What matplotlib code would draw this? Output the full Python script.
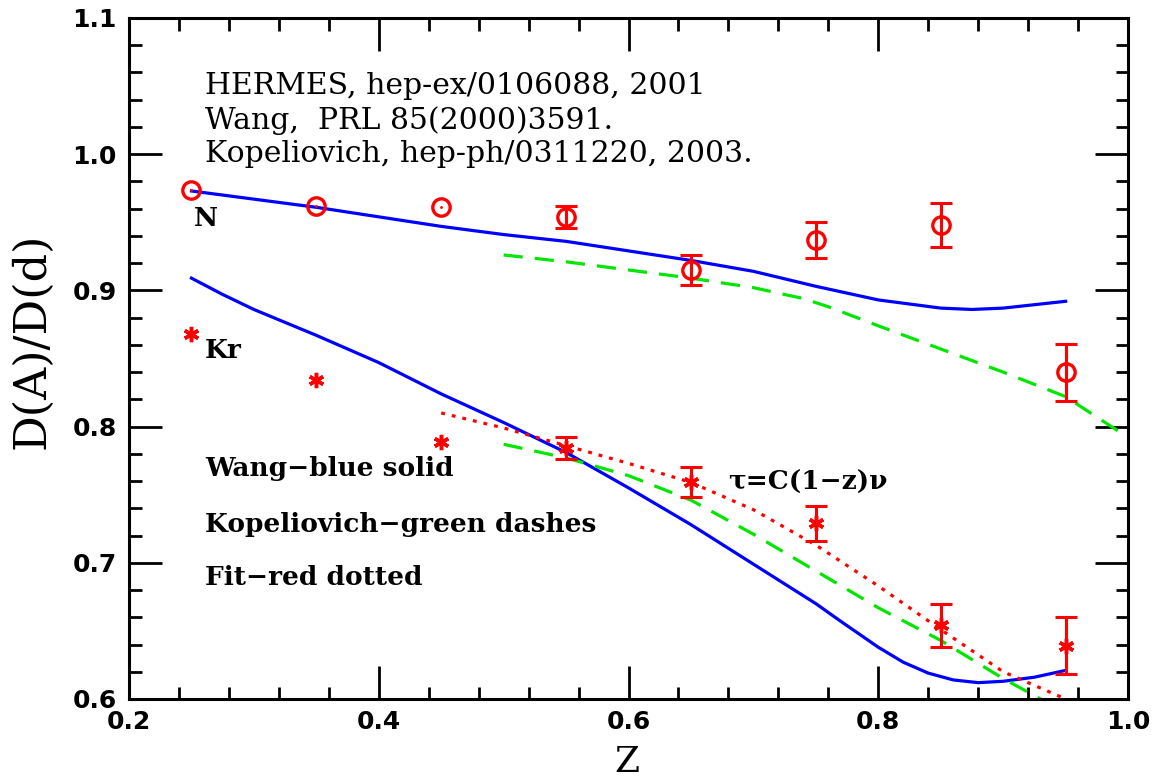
import matplotlib
matplotlib.use('Agg')
import matplotlib.pyplot as plt
import numpy as np
from matplotlib.ticker import MultipleLocator

# HERMES data points
z = [0.25, 0.35, 0.45, 0.55, 0.65, 0.75, 0.85, 0.95]
ratio_N = [0.974, 0.962, 0.961, 0.954, 0.915, 0.937, 0.948, 0.840]
err_N = [0, 0, 0, 0.008, 0.011, 0.013, 0.016, 0.021]
ratio_Kr = [0.868, 0.834, 0.789, 0.784, 0.759, 0.729, 0.654, 0.639]
err_Kr = [0, 0, 0, 0.008, 0.011, 0.013, 0.016, 0.021]

# Wang (blue solid)
wang_z = [0.25, 0.30, 0.35, 0.40, 0.45, 0.50, 0.55, 0.60, 0.65, 0.70, 0.75, 0.80, 0.85, 0.875, 0.90, 0.95]
wang_N = [0.973, 0.967, 0.961, 0.954, 0.947, 0.941, 0.936, 0.929, 0.922, 0.914, 0.903, 0.893, 0.887, 0.886, 0.887, 0.892]
wang_kr_z = [0.25, 0.275, 0.30, 0.35, 0.40, 0.45, 0.50, 0.55, 0.60, 0.65, 0.70, 0.75, 0.77, 0.80, 0.82, 0.84,
             0.86, 0.88, 0.90, 0.925, 0.95]
wang_Kr = [0.909, 0.897, 0.886, 0.867, 0.847, 0.824, 0.803, 0.781, 0.755, 0.728, 0.699, 0.670, 0.657, 0.638,
           0.627, 0.619, 0.614, 0.612, 0.613, 0.616, 0.621]

# Kopeliovich (green dashes)
kop_N_z = [0.50, 0.55, 0.60, 0.65, 0.70, 0.74, 0.76, 0.80, 0.85, 0.90, 0.95, 1.00]
kop_N = [0.926, 0.921, 0.915, 0.909, 0.902, 0.894, 0.888, 0.874, 0.857, 0.840, 0.822, 0.792]
kop_Kr_z = [0.50, 0.55, 0.60, 0.65, 0.70, 0.75, 0.80, 0.85, 0.90, 0.93, 0.96]
kop_Kr = [0.787, 0.777, 0.764, 0.746, 0.721, 0.694, 0.667, 0.643, 0.615, 0.600, 0.582]

# fit (red dotted)
fit_z = [0.45, 0.50, 0.55, 0.60, 0.65, 0.70, 0.75, 0.80, 0.85, 0.90, 0.95]
fit_Kr = [0.810, 0.799, 0.786, 0.773, 0.759, 0.739, 0.713, 0.683, 0.651, 0.620, 0.600]

fig = plt.figure(figsize=(11.57, 7.79), dpi=100)
ax = fig.add_axes([0.1115, 0.1027, 0.8635, 0.8742])

ax.plot(wang_z, wang_N, color='#0000ff', lw=2.3)
ax.plot(wang_kr_z, wang_Kr, color='#0000ff', lw=2.3)
ax.plot(kop_N_z, kop_N, color='#00e600', lw=2.3, dashes=(6, 3.8))
ax.plot(kop_Kr_z, kop_Kr, color='#00e600', lw=2.3, dashes=(6, 3.8))
ax.plot(fit_z, fit_Kr, color='#ff0000', lw=2.3, linestyle=(0, (1.2, 2.2)))

z = np.array(z)
m = np.array(err_N) > 0
ax.plot(z, ratio_N, 'o', mfc='none', mec='#ff0000', mew=2.4, ms=12.5, zorder=5)
ax.plot(z, ratio_N, '.', color='#ff0000', ms=2, zorder=5)
ax.errorbar(z[m], np.array(ratio_N)[m], yerr=np.array(err_N)[m], fmt='none',
            ecolor='#ff0000', elinewidth=2.2, capsize=8, capthick=2.2, zorder=5)
mk = np.array(err_Kr) > 0
ax.plot(z, ratio_Kr, marker=(6, 2, 0), ls='none', color='#ff0000', mew=2.5, ms=11, zorder=5)
ax.errorbar(z[mk], np.array(ratio_Kr)[mk], yerr=np.array(err_Kr)[mk], fmt='none',
            ecolor='#ff0000', elinewidth=2.2, capsize=8, capthick=2.2, zorder=5)

ax.set_xlim(0.2, 1.0)
ax.set_ylim(0.6, 1.1)
ax.xaxis.set_major_locator(MultipleLocator(0.2))
ax.xaxis.set_minor_locator(MultipleLocator(0.04))
ax.yaxis.set_major_locator(MultipleLocator(0.1))
ax.yaxis.set_minor_locator(MultipleLocator(0.02))
ax.tick_params(which='both', direction='in', top=True, right=True, width=2)
ax.tick_params(which='major', length=24)
ax.tick_params(which='minor', length=9)
ax.tick_params(axis='x', pad=8)
ax.tick_params(axis='y', pad=9)
for lab in ax.get_xticklabels() + ax.get_yticklabels():
    lab.set_fontfamily('DejaVu Sans')
    lab.set_fontweight('bold')
    lab.set_fontsize(18)
for s in ax.spines.values():
    s.set_linewidth(2.2)

ax.set_xlabel('Z', fontsize=26, family='DejaVu Serif')
ax.xaxis.set_label_coords(0.498, -0.068)
ax.set_ylabel('D(A)/D(d)', fontsize=32, family='DejaVu Serif')
ax.yaxis.set_label_coords(-0.076, 0.526)

serif = 'DejaVu Serif'
ax.text(0.261, 1.050, 'HERMES, hep-ex/0106088, 2001', fontsize=21.5, family=serif, va='center')
ax.text(0.261, 1.025, 'Wang,  PRL 85(2000)3591.', fontsize=21.5, family=serif, va='center')
ax.text(0.261, 1.000, 'Kopeliovich, hep-ph/0311220, 2003.', fontsize=21.5, family=serif, va='center')
ax.text(0.252, 0.953, 'N', fontsize=19, family=serif, weight='bold', va='center')
ax.text(0.261, 0.856, 'Kr', fontsize=19, family=serif, weight='bold', va='center')
ax.text(0.261, 0.769, 'Wang\u2212blue solid', fontsize=19, family=serif, weight='bold', va='center')
ax.text(0.261, 0.728, 'Kopeliovich\u2212green dashes', fontsize=19, family=serif, weight='bold', va='center')
ax.text(0.261, 0.689, 'Fit\u2212red dotted', fontsize=19, family=serif, weight='bold', va='center')
ax.text(0.68, 0.759, '\u03c4=C(1\u2212z)\u03bd', fontsize=19, family=serif, weight='bold', va='center')

fig.savefig('out.png', dpi=100)
